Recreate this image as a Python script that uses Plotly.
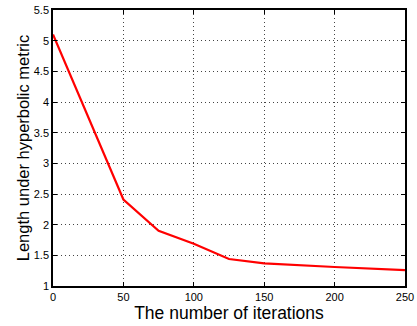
import plotly.graph_objects as go

iterations = [0, 50, 75, 100, 125, 150, 200, 250]
length = [5.1, 2.41, 1.90, 1.69, 1.44, 1.37, 1.31, 1.26]

x_ticks = [0, 50, 100, 150, 200, 250]
y_ticks = [1, 1.5, 2, 2.5, 3, 3.5, 4, 4.5, 5, 5.5]
y_labels = ["1", "1.5", "2", "2.5", "3", "3.5", "4", "4.5", "5", "5.5"]

fig = go.Figure()
fig.add_trace(go.Scatter(x=iterations, y=length, mode="lines",
                         line=dict(color="#ff0000", width=2.2)))

axis_common = dict(
    showline=True, linecolor="black", linewidth=1.5, mirror="ticks",
    ticks="inside", ticklen=4, tickcolor="black", tickwidth=1,
    showgrid=True, gridcolor="#444444", gridwidth=1, griddash="1px,3px",
    zeroline=False, automargin=False,
    tickfont=dict(family="Liberation Sans, Arial", size=11, color="black"),
)

fig.update_layout(
    width=417, height=326,
    margin=dict(l=53, r=12, t=10, b=40),
    paper_bgcolor="white", plot_bgcolor="white",
    showlegend=False,
    font=dict(family="Liberation Sans, Arial", color="black"),
    xaxis=dict(range=[0, 250], tickvals=x_ticks, ticktext=[str(v) for v in x_ticks],
               title=dict(text="The number of iterations", font=dict(size=17.5), standoff=3),
               **axis_common),
    yaxis=dict(range=[1, 5.5], tickvals=y_ticks, ticktext=y_labels,
               title=dict(text="Length under hyperbolic metric", font=dict(size=16.5), standoff=0),
               **axis_common),
)

fig.write_html("out.html", config={"displayModeBar": False},
               post_script="document.body.style.margin='0';document.body.style.overflow='hidden';")
